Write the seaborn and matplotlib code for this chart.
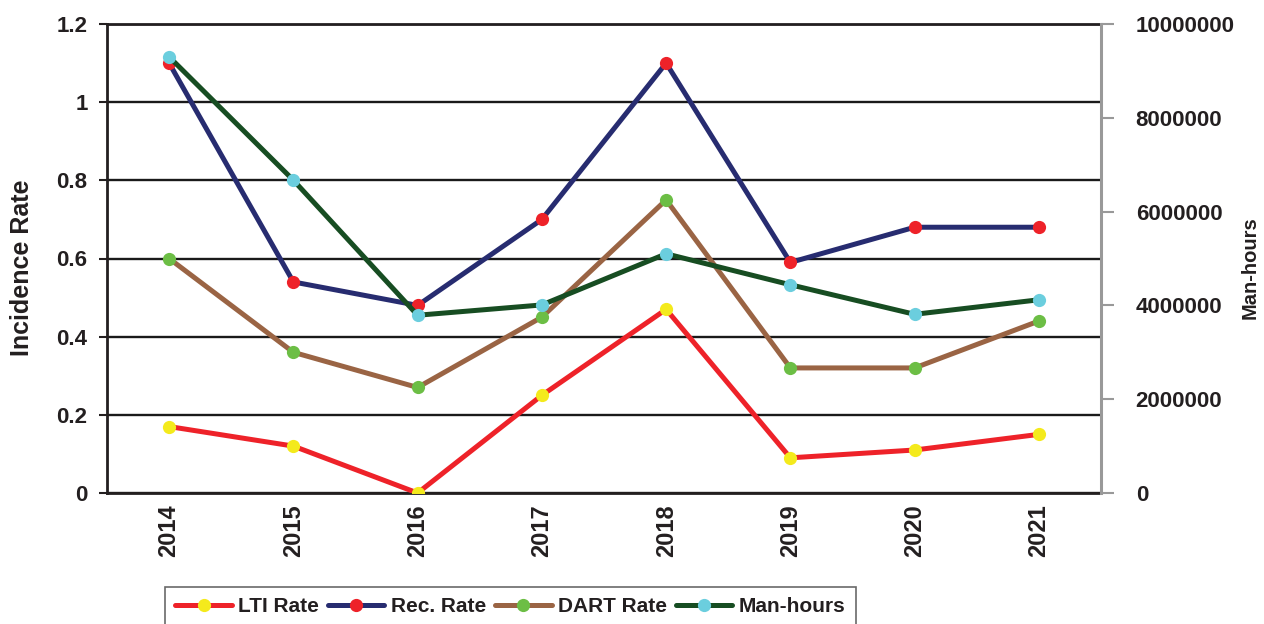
import matplotlib
matplotlib.use("Agg")
import matplotlib.pyplot as plt
from matplotlib.ticker import FixedLocator, FuncFormatter
import seaborn as sns

# Yearly safety statistics
years = [2014, 2015, 2016, 2017, 2018, 2019, 2020, 2021]
lti_rate = [0.17, 0.12, 0.00, 0.25, 0.47, 0.09, 0.11, 0.15]
rec_rate = [1.10, 0.54, 0.48, 0.70, 1.10, 0.59, 0.68, 0.68]
dart_rate = [0.60, 0.36, 0.27, 0.45, 0.75, 0.32, 0.32, 0.44]
man_hours = [9300000, 6670000, 3790000, 4010000, 5100000, 4440000, 3810000, 4120000]

left_ticks = [0, 0.2, 0.4, 0.6, 0.8, 1.0, 1.2]
right_ticks = [0, 2000000, 4000000, 6000000, 8000000, 10000000]

sns.set_theme(style="white")
plt.rcParams["font.family"] = ["Liberation Sans", "DejaVu Sans"]
plt.rcParams["font.weight"] = "bold"
plt.rcParams["axes.labelweight"] = "bold"

fig = plt.figure(figsize=(12.64, 6.24), dpi=100)
ax = fig.add_axes([107 / 1264, 1 - 493 / 624, (1101 - 107) / 1264, (493 - 24) / 624])

LW = 3.6
MS = 9.5
series = [
    ("LTI Rate", lti_rate, "#EE2229", "#F4EA1C"),
    ("Rec. Rate", rec_rate, "#272C70", "#EE2229"),
    ("DART Rate", dart_rate, "#9A6444", "#6CBE45"),
]
for label, vals, lc, mc in series:
    sns.lineplot(x=years, y=vals, ax=ax, color=lc, linewidth=LW, marker="o",
                 markersize=MS, markerfacecolor=mc, markeredgecolor=mc,
                 markeredgewidth=0, label=label, legend=False, zorder=3)

ax.set_xlim(2013.5, 2021.5)
ax.set_ylim(0, 1.2)
ax.yaxis.set_major_locator(FixedLocator(left_ticks))
ax.yaxis.set_major_formatter(FuncFormatter(lambda v, p: f"{v:g}"))
ax.set_xticks(years)
ax.set_xticklabels([str(y) for y in years], rotation=90, fontsize=17, fontweight="bold")
ax.set_xticks([y - 0.5 for y in years] + [years[-1] + 0.5], minor=True)
ax.tick_params(axis="x", which="major", length=0, pad=8, colors="#231F20")
ax.tick_params(axis="x", which="minor", length=9, width=1.5, color="#231F20", direction="out")
ax.tick_params(axis="y", which="major", length=6, width=1.5, color="#231F20",
               labelsize=16, pad=8, direction="out", left=True)
for t in ax.get_yticklabels():
    t.set_fontweight("bold")
    t.set_color("#231F20")
ax.yaxis.grid(True, color="#1A1A1A", linewidth=1.7)
ax.set_axisbelow(True)
for side in ["left", "bottom", "top"]:
    ax.spines[side].set_color("#231F20")
    ax.spines[side].set_linewidth(2)
ax.spines["right"].set_visible(False)
ax.set_ylabel("Incidence Rate", fontsize=18, fontweight="bold", color="#231F20")
ax.yaxis.set_label_coords(-0.073, 0.48)

ax2 = ax.twinx()
sns.lineplot(x=years, y=man_hours, ax=ax2, color="#174D22", linewidth=LW, marker="o",
             markersize=MS, markerfacecolor="#6BCEDE", markeredgecolor="#6BCEDE",
             markeredgewidth=0, label="Man-hours", legend=False, zorder=3)
ax2.set_ylim(0, 10000000)
ax2.yaxis.set_major_locator(FixedLocator(right_ticks))
ax2.yaxis.set_major_formatter(FuncFormatter(lambda v, p: f"{v:.0f}"))
ax2.tick_params(axis="y", length=9, width=1.5, color="#999999", labelsize=16, pad=16,
                direction="out", right=True, labelcolor="#231F20")
for t in ax2.get_yticklabels():
    t.set_fontweight("bold")
for side in ["left", "bottom", "top"]:
    ax2.spines[side].set_visible(False)
ax2.spines["right"].set_color("#999999")
ax2.spines["right"].set_linewidth(2.2)
ax2.set_ylabel("Man-hours", fontsize=14.5, fontweight="bold", color="#231F20")
ax2.yaxis.set_label_coords(1.140, 0.48)
ax2.set_xlim(2013.5, 2021.5)

h1, l1 = ax.get_legend_handles_labels()
h2, l2 = ax2.get_legend_handles_labels()
leg = fig.legend(h1 + h2, l1 + l2, loc="upper left",
                 bbox_to_anchor=(165 / 1264, 1 - 587 / 624), ncol=4, frameon=True,
                 fancybox=False, edgecolor="#444444", fontsize=15, numpoints=1,
                 handlelength=2.7, handletextpad=0.3, columnspacing=0.45,
                 borderpad=0.5, borderaxespad=0)
leg.get_frame().set_linewidth(1.2)
for t in leg.get_texts():
    t.set_fontweight("bold")
    t.set_color("#231F20")

fig.savefig("out.png", dpi=100)
